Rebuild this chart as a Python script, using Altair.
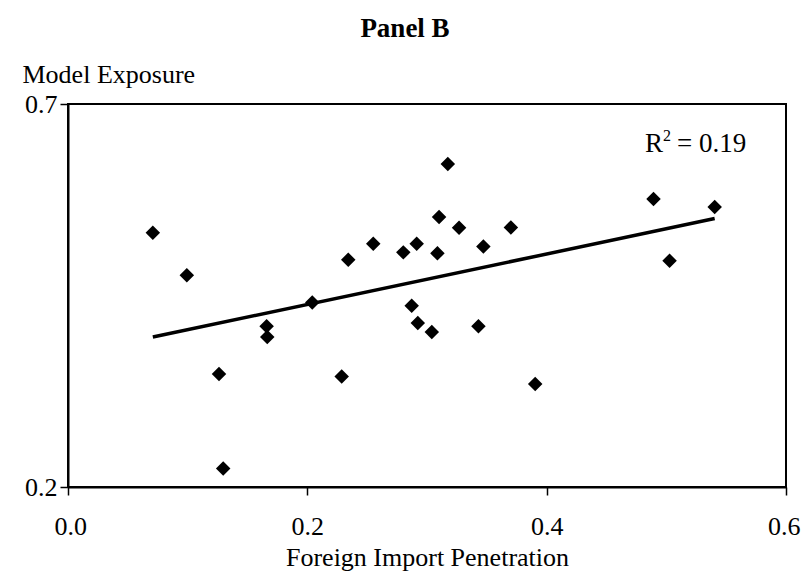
import altair as alt
import pandas as pd

import_penetration = [0.0709, 0.0993, 0.1262, 0.1297, 0.1660, 0.1665, 0.2041, 0.2287,
                      0.2342, 0.2551, 0.2802, 0.2872, 0.2914, 0.2923, 0.3040, 0.3087,
                      0.3101, 0.3174, 0.3268, 0.3430, 0.3471, 0.3701, 0.3904, 0.4893,
                      0.5027, 0.5404]
model_exposure = [0.532, 0.4765, 0.3475, 0.224, 0.4097, 0.3958, 0.441, 0.3444,
                  0.4967, 0.5176, 0.5063, 0.4367, 0.5176, 0.4141, 0.4023, 0.505,
                  0.5525, 0.6217, 0.5385, 0.4097, 0.5141, 0.5389, 0.3345, 0.576,
                  0.4954, 0.5655]
x_ticks = [0.0, 0.2, 0.4, 0.6]
y_ticks = [0.2, 0.7]

df = pd.DataFrame({"x": import_penetration, "y": model_exposure})

FONT = "Liberation Serif"

x_enc = alt.X("x:Q", scale=alt.Scale(domain=[0, 0.6], nice=False, zero=False),
              axis=alt.Axis(values=x_ticks, format=".1f", title="Foreign Import Penetration",
                            grid=False, tickSize=8, labelPadding=18, titlePadding=5,
                            labelFlush=True, labelFlushOffset=14))
y_enc = alt.Y("y:Q", scale=alt.Scale(domain=[0.2, 0.7], nice=False, zero=False),
              axis=alt.Axis(values=y_ticks, format=".1f", title="Model Exposure",
                            grid=False, tickSize=8, labelPadding=3,
                            titleAngle=0, titleX=-46, titleY=-22,
                            titleAlign="left", titleBaseline="alphabetic"))

base = alt.Chart(df)

points = base.mark_point(shape="diamond", filled=True, color="black", size=210, opacity=1).encode(
    x=x_enc, y=y_enc)

trend = base.transform_regression("x", "y").mark_line(color="black", strokeWidth=3.5).encode(
    x="x:Q", y="y:Q")

title_txt = alt.Chart(pd.DataFrame({"t": ["Panel B"]})).mark_text(
    font=FONT, fontSize=27, fontWeight="bold", align="center", baseline="alphabetic", color="black"
).encode(text="t:N", x=alt.value(337), y=alt.value(-67))

r_txt = alt.Chart(pd.DataFrame({"t": ["R"]})).mark_text(
    font=FONT, fontSize=27, align="left", baseline="alphabetic", color="black"
).encode(text="t:N", x=alt.value(577), y=alt.value(48))

sup_txt = alt.Chart(pd.DataFrame({"t": ["2"]})).mark_text(
    font=FONT, fontSize=16, align="left", baseline="alphabetic", color="black"
).encode(text="t:N", x=alt.value(595), y=alt.value(37))

eq_txt = alt.Chart(pd.DataFrame({"t": ["= 0.19"]})).mark_text(
    font=FONT, fontSize=27, align="left", baseline="alphabetic", color="black"
).encode(text="t:N", x=alt.value(609), y=alt.value(48))

chart = alt.layer(points, trend, title_txt, r_txt, sup_txt, eq_txt).properties(
    width=718, height=383,
    autosize=alt.AutoSizeParams(type="none"),
    padding={"left": 60, "top": 96, "right": 15, "bottom": 87},
).configure(
    background="white"
).configure_view(
    stroke="black", strokeWidth=2
).configure_axis(
    labelFont=FONT, titleFont=FONT, labelFontSize=26, titleFontSize=26,
    labelColor="black", titleColor="black", titleFontWeight="normal",
    domainColor="black", domainWidth=2, tickColor="black", tickWidth=1.5
)

chart.save("out.html", embed_options={"renderer": "svg", "actions": False})
